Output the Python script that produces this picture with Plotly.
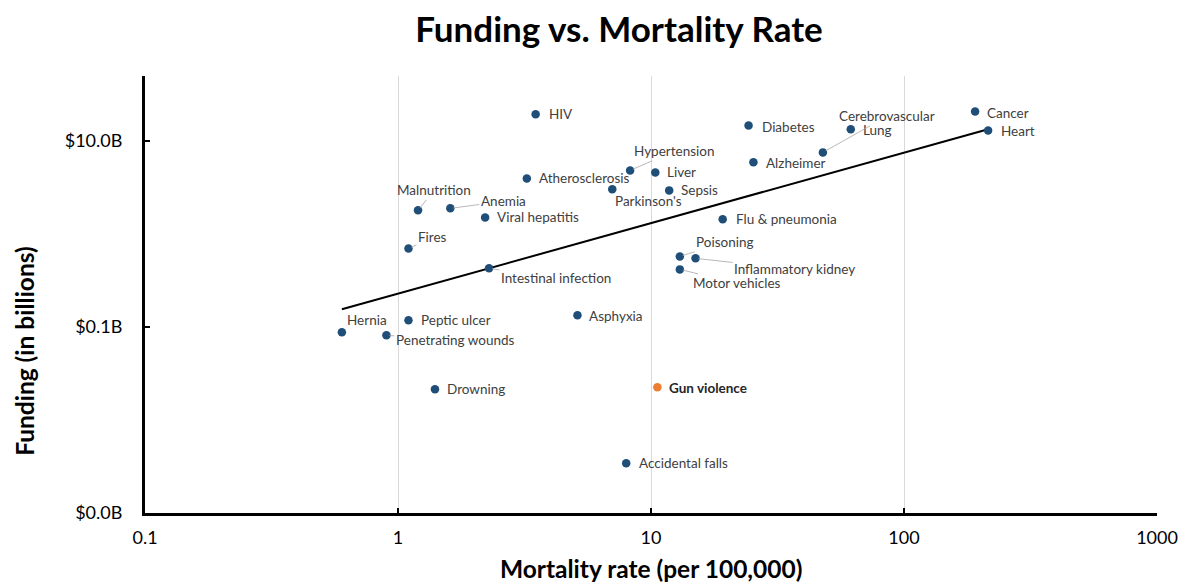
import numpy as np
import plotly.graph_objects as go

# ---------------- data ----------------
causes = ["HIV", "Cancer", "Heart", "Diabetes", "Lung", "Cerebrovascular", "Alzheimer",
          "Hypertension", "Liver", "Atherosclerosis", "Parkinson's", "Sepsis",
          "Malnutrition", "Anemia", "Viral hepatitis", "Flu & pneumonia", "Fires",
          "Poisoning", "Inflammatory kidney", "Motor vehicles", "Intestinal infection",
          "Asphyxia", "Peptic ulcer", "Hernia", "Penetrating wounds", "Drowning",
          "Accidental falls"]
mortality = [3.5, 191, 215, 24.3, 61.6, 47.8, 25.4,
             8.27, 10.4, 3.23, 7.03, 11.8,
             1.2, 1.61, 2.21, 19.2, 1.1,
             13.0, 15.0, 13.0, 2.29,
             5.12, 1.1, 0.6, 0.9, 1.4,
             7.98]
funding = [19.4, 20.8, 13.0, 14.7, 13.4, 7.56, 5.91,
           4.84, 4.6, 3.97, 3.03, 2.95,
           1.8, 1.89, 1.51, 1.44, 0.70,
           0.575, 0.548, 0.417, 0.428,
           0.134, 0.118, 0.0877, 0.0815, 0.0214,
           0.00342]

gun_label = ["Gun violence"]
gun_mortality = [10.6]
gun_funding = [0.0225]

x_tickvals = [0.1, 1, 10, 100, 1000]
x_ticktext = ["0.1", "1", "10", "100", "1000"]
y_tickvals = [0.001, 0.1, 10]
y_ticktext = ["$0.0B", "$0.1B", "$10.0B"]

# ---------------- label placement (style) ----------------
# (dx, dy, leader): leader labels -> text centre offset; plain labels -> left edge offset
label_pos = {
    "HIV": (11, 0, False), "Cancer": (10, 1, False), "Heart": (11, 1, False),
    "Diabetes": (11, 1, False), "Lung": (10, 1, False),
    "Cerebrovascular": (64, -36, True), "Alzheimer": (11, 1, False),
    "Hypertension": (44, -19, True), "Liver": (10, 0, False),
    "Atherosclerosis": (10, 0, False), "Parkinson's": (1, 12, False),
    "Sepsis": (10, 0, False), "Malnutrition": (16, -20, True),
    "Anemia": (53, -7, True), "Viral hepatitis": (10, 0, False),
    "Flu & pneumonia": (11, 0, False), "Fires": (24, -11, True),
    "Poisoning": (45, -14, True), "Inflammatory kidney": (99, 11, True),
    "Motor vehicles": (57, 14, True), "Intestinal infection": (67, 10, True),
    "Asphyxia": (10, 1, False), "Peptic ulcer": (11, 0, False),
    "Hernia": (3, -12, False), "Penetrating wounds": (69, 5, True),
    "Drowning": (10, 0, False), "Accidental falls": (11, 0, False),
    "Gun violence": (10, 1, False),
}

BLUE = "#1F4E79"
ORANGE = "#ED7D31"
LABEL_FONT = dict(family="Lato, Open Sans, sans-serif", size=13.5, color="#404040")
BOLD_FONT = "Lato, Open Sans, sans-serif"

# page body has an 8px margin -> figure is 8px smaller, margins compensate
W, H = 1182, 576

fig = go.Figure()

all_names = causes + gun_label
all_x = mortality + gun_mortality
all_y = funding + gun_funding

# trendline (power fit over all points)
lx = np.log10(all_x)
ly = np.log10(all_y)
slope, intercept = np.polyfit(lx, ly, 1)
tx = np.array([min(all_x), max(all_x)])
ty = 10 ** (intercept + slope * np.log10(tx))
fig.add_trace(go.Scatter(x=tx, y=ty, mode="lines",
                         line=dict(color="black", width=2), hoverinfo="skip",
                         showlegend=False))

fig.add_trace(go.Scatter(x=mortality, y=funding, mode="markers", text=causes,
                         marker=dict(color=BLUE, size=8.5), showlegend=False))
fig.add_trace(go.Scatter(x=gun_mortality, y=gun_funding, mode="markers", text=gun_label,
                         marker=dict(color=ORANGE, size=8.5), showlegend=False))

annotations = []
for name, xv, yv in zip(all_names, all_x, all_y):
    dx, dy, leader = label_pos[name]
    font = dict(LABEL_FONT)
    text = name
    if name == "Gun violence":
        text = "<b>Gun violence</b>"
        font["color"] = "#262626"
    if leader:
        annotations.append(dict(x=np.log10(xv), y=np.log10(yv), xref="x", yref="y",
                                text=text, showarrow=True, arrowhead=0, arrowwidth=0.8,
                                arrowcolor="#A6A6A6", ax=dx, ay=dy, standoff=3,
                                xanchor="center", yanchor="middle", font=font))
    else:
        annotations.append(dict(x=np.log10(xv), y=np.log10(yv), xref="x", yref="y",
                                text=text, showarrow=False, xanchor="left",
                                yanchor="middle", xshift=dx, yshift=-dy, font=font))

# axis titles
annotations.append(dict(x=0.5, y=0, xref="paper", yref="paper", yanchor="middle",
                        yshift=-55, showarrow=False,
                        text="<b>Mortality rate (per 100,000)</b>",
                        font=dict(family=BOLD_FONT, size=24.5, color="black")))
annotations.append(dict(x=0, y=0.371, xref="paper", yref="paper", xanchor="center",
                        yanchor="middle", xshift=-120, showarrow=False, textangle=-90,
                        text="<b>Funding (in billions)</b>",
                        font=dict(family=BOLD_FONT, size=24.5, color="black")))

fig.update_layout(
    width=W, height=H,
    margin=dict(l=137, r=27, t=68, b=71),
    paper_bgcolor="white", plot_bgcolor="white",
    title=dict(text="<b>Funding vs. Mortality Rate</b>", x=(619 - 8) / W, xanchor="center",
               y=1 - 22 / H, yanchor="middle", yref="container",
               font=dict(family=BOLD_FONT, size=35, color="black")),
    annotations=annotations,
    showlegend=False,
)
fig.update_xaxes(type="log", range=[-1, 3], tickvals=x_tickvals, ticktext=x_ticktext,
                 showgrid=True, gridcolor="#D9D9D9", gridwidth=1,
                 showline=True, linecolor="black", linewidth=3,
                 ticks="inside", ticklen=5, tickwidth=2, tickcolor="black",
                 ticklabelstandoff=6, zeroline=False,
                 tickfont=dict(family=BOLD_FONT, size=18, color="black"))
fig.update_yaxes(type="log", range=[-3, 1.7], tickvals=y_tickvals, ticktext=y_ticktext,
                 showgrid=False, showline=True, linecolor="black", linewidth=3,
                 ticks="inside", ticklen=5, tickwidth=2, tickcolor="black",
                 ticklabelstandoff=16, zeroline=False,
                 tickfont=dict(family=BOLD_FONT, size=18, color="black"))

fig.write_html("out.html")
